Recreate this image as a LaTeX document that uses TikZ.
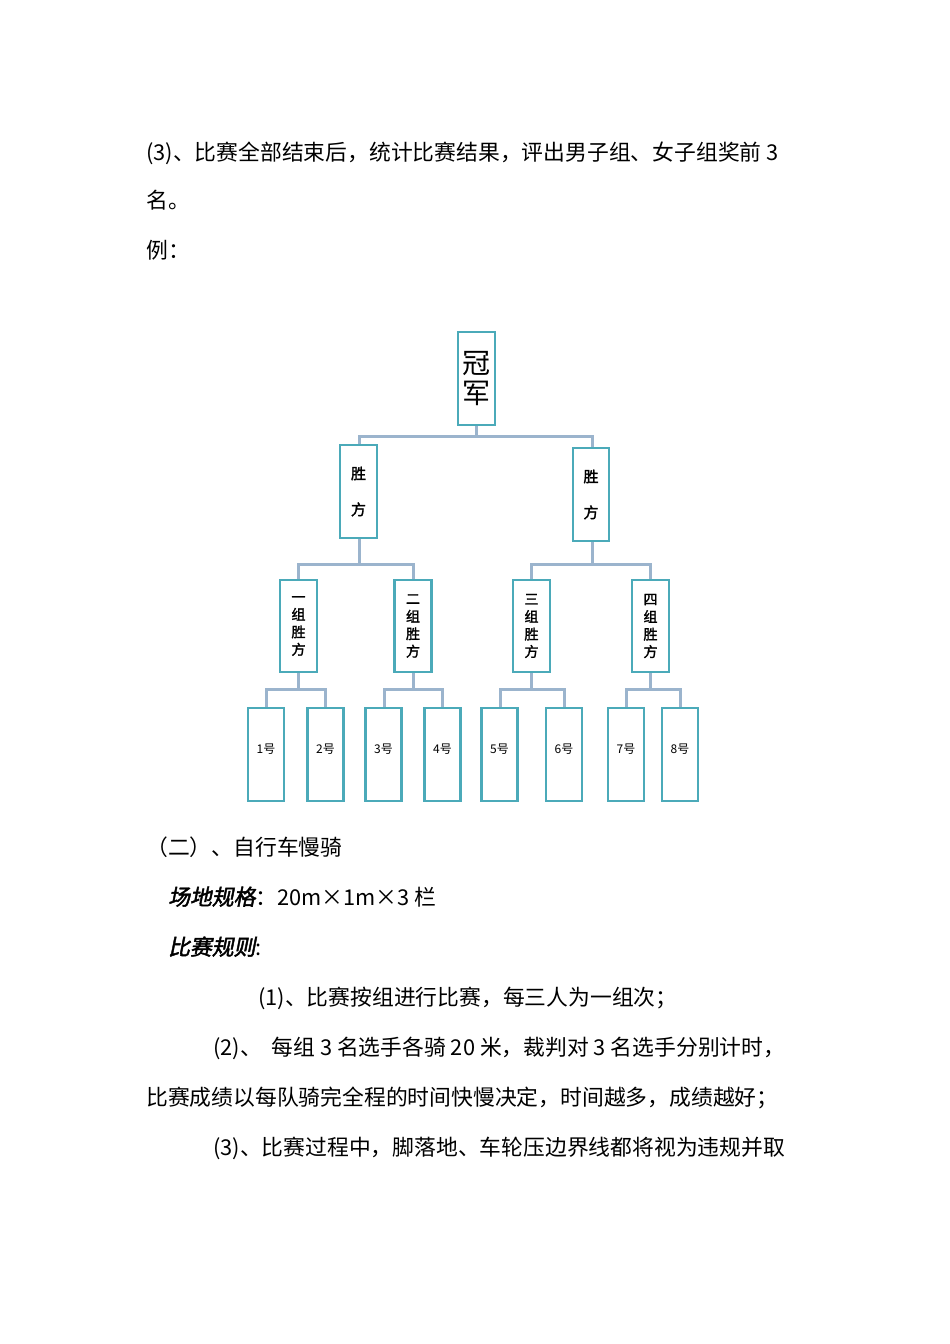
\documentclass[tikz,border=0pt]{standalone}
\usepackage{fontspec}
\setmainfont{Noto Sans CJK SC}
\newfontfamily\cjkbi[FakeSlant=0.2,FakeBold=2]{Noto Sans CJK SC}
\newfontfamily\cjkb[FakeBold=2]{Noto Sans CJK SC}
\begin{document}
\begin{tikzpicture}[x=1pt,y=-1pt,
  bx/.style={draw={rgb,255:red,75;green,170;blue,185},line width=2.2pt,fill=white,inner sep=0pt,align=center},
  conn/.style={draw={rgb,255:red,155;green,180;blue,205},line width=3pt},
  txt/.style={anchor=base west,inner sep=0pt,font=\fontsize{21.8}{26}\selectfont}]
\useasboundingbox (0,0) rectangle (950,1344);
\node[txt] (t1) at (146,160) {(3)、比赛全部结束后，统计比赛结果，评出男子组、女子组奖前 3};
\node[txt] (t2) at (146,208) {名。};
\node[txt] (t3) at (146,258) {例：};
% connectors
\draw[conn] (476,425) -- (476,436);
\draw[conn] (359,445) -- (359,436) -- (592,436) -- (592,448);
\draw[conn] (359,538) -- (359,564);
\draw[conn] (298,580) -- (298,564) -- (413,564) -- (413,580);
\draw[conn] (592,541) -- (592,564);
\draw[conn] (531,580) -- (531,564) -- (650,564) -- (650,580);
\foreach \p/\a/\b in {298/266/325, 413/384/442, 531/500/564, 650/626/680}{
  \draw[conn] (\p,672) -- (\p,689);
  \draw[conn] (\a,708) -- (\a,689) -- (\b,689) -- (\b,708);
}
% boxes
\node[bx,minimum width=37pt,minimum height=93pt,font=\fontsize{28}{32}\selectfont] (champ) at (476.5,378.5) {冠\\[-2pt]军};
\node[bx,minimum width=37pt,minimum height=93pt,font=\cjkb\fontsize{15}{18}\selectfont] (wl) at (358.5,491.5) {胜\\[18pt]方};
\node[bx,minimum width=36pt,minimum height=93pt,font=\cjkb\fontsize{15}{18}\selectfont] (wr) at (591,494.5) {胜\\[18pt]方};
\foreach \n/\x/\t in {g1/298.5/一, g2/413/二, g3/531.5/三, g4/650.5/四}{
  \node[bx,minimum width=37pt,minimum height=92pt,font=\cjkb\fontsize{14}{17.5}\selectfont] (\n) at (\x,626) {\t\\组\\胜\\方};
}
\foreach \n/\x/\t in {l1/266/1号, l2/325.5/2号, l3/383.5/3号, l4/442.5/4号, l5/499.5/5号, l6/564/6号, l7/626/7号, l8/680/8号}{
  \node[bx,minimum width=36pt,minimum height=93pt] (\n) at (\x,754.5) {};
  \node[font=\fontsize{12}{14}\selectfont,inner sep=0pt] (\n t) at (\x,749) {\t};
}
\node[txt] (t4) at (146,855) {（二）、自行车慢骑};
\node[txt] (t5) at (168,905) {{\cjkbi 场地规格}：20m×1m×3 栏};
\node[txt] (t6) at (168,955) {{\cjkbi 比赛规则}:};
\node[txt] (t7) at (258,1005) {(1)、比赛按组进行比赛，每三人为一组次；};
\node[txt] (t8) at (213,1055) {(2)、\ \ 每组 3 名选手各骑 20 米，裁判对 3 名选手分别计时，};
\node[txt] (t9) at (146,1105) {比赛成绩以每队骑完全程的时间快慢决定，时间越多，成绩越好；};
\node[txt] (t10) at (213,1155) {(3)、比赛过程中，脚落地、车轮压边界线都将视为违规并取};
\end{tikzpicture}
\end{document}
